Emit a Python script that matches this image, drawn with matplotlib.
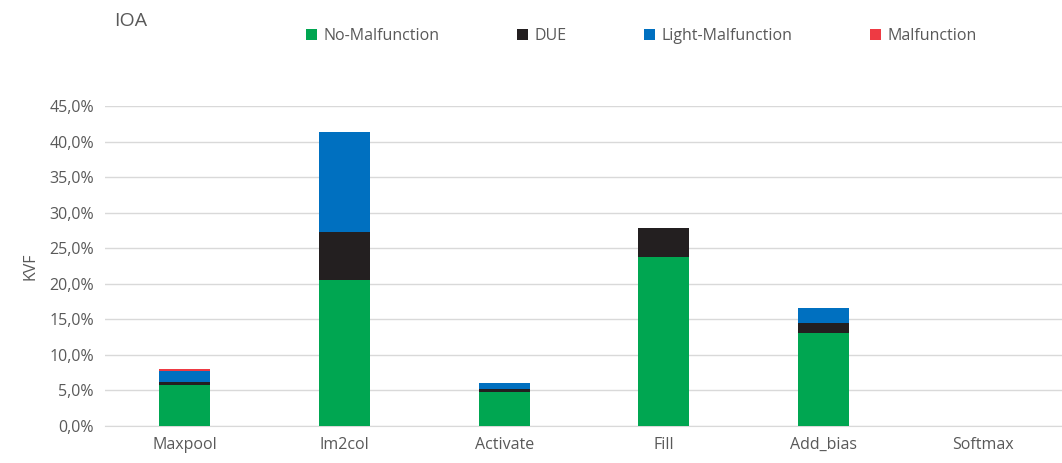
import numpy as np
import matplotlib.pyplot as plt
from matplotlib.ticker import FuncFormatter

plt.rcParams["font.family"] = ["Open Sans", "DejaVu Sans"]

kernels = ["Maxpool", "Im2col", "Activate", "Fill", "Add_bias", "Softmax"]
series = ["No-Malfunction", "DUE", "Light-Malfunction", "Malfunction"]

no_malfunction = [5.8, 20.6, 4.8, 23.7, 13.1, 0.0]
due = [0.4, 6.7, 0.4, 4.1, 1.45, 0.0]
light_malfunction = [1.55, 14.1, 0.85, 0.0, 2.0, 0.0]
malfunction = [0.25, 0.0, 0.0, 0.0, 0.0, 0.0]

colors = ["#00A651", "#231F20", "#0070C0", "#EE3A43"]
text_color = "#595959"

fig = plt.figure(figsize=(10.62, 4.63), dpi=100)
ax = fig.add_axes([105 / 1062, 37 / 463, 958 / 1062, 320 / 463])

x = np.arange(len(kernels))
bottom = np.zeros(len(kernels))
for name, vals, col in zip(series, [no_malfunction, due, light_malfunction, malfunction], colors):
    vals = np.array(vals)
    ax.bar(x, vals, width=0.32, bottom=bottom, color=col, label=name, zorder=3)
    bottom += vals

ax.set_xlim(-0.5, len(kernels) - 0.5)
ax.set_ylim(0, 45)
ax.set_yticks(np.arange(0, 46, 5))
ax.yaxis.set_major_formatter(FuncFormatter(lambda v, p: f"{v:.1f}%".replace(".", ",")))
ax.set_xticks(x)
ax.set_xticklabels(kernels)
ax.grid(axis="y", color="#D9D9D9", linewidth=1, zorder=0)
for s in ["top", "right", "left"]:
    ax.spines[s].set_visible(False)
ax.spines["bottom"].set_color("#D9D9D9")
ax.tick_params(axis="both", length=0, labelsize=11.5, colors=text_color, pad=8)
ax.set_ylabel("KVF", fontsize=11.5, color=text_color, labelpad=8)

fig.text(114 / 1062, 1 - 21 / 463, "IOA", fontsize=14, color=text_color, va="center")

fig.legend(loc="center", bbox_to_anchor=(641 / 1062, 1 - 36 / 463), ncol=4,
           frameon=False, fontsize=11.5, labelcolor=text_color,
           handlelength=0.7, handleheight=0.7, handletextpad=0.4,
           columnspacing=4.85)

fig.savefig("out.png", dpi=100)
